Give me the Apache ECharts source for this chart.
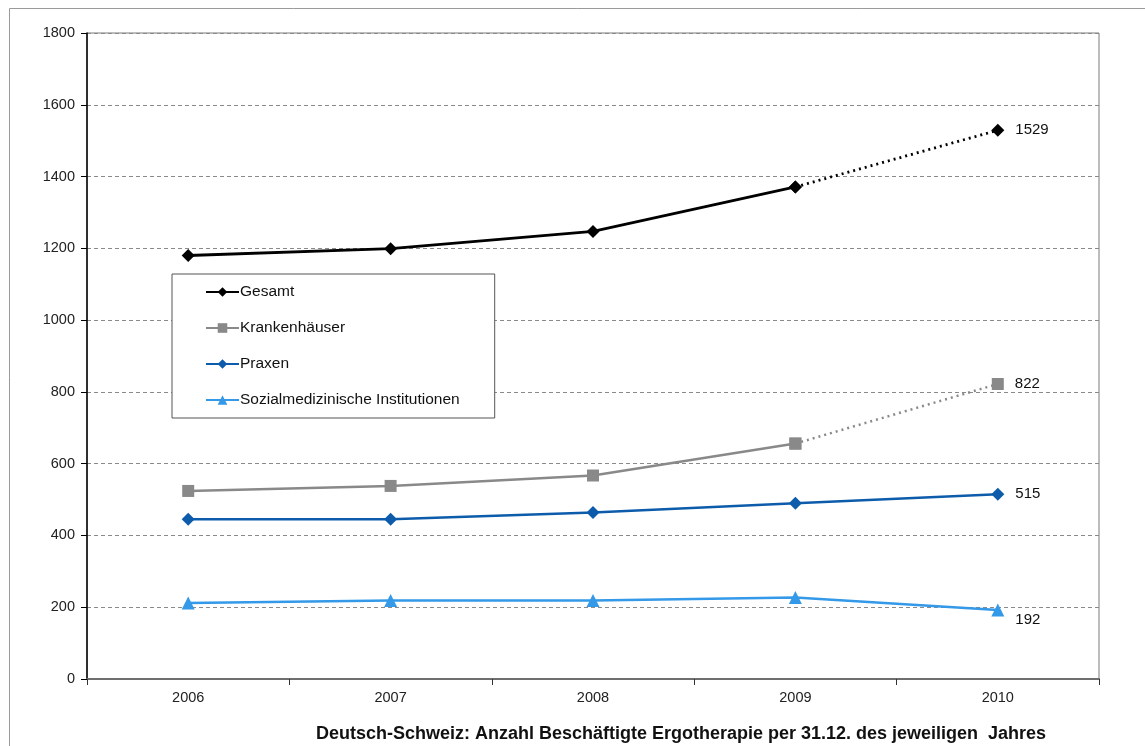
<!DOCTYPE html>
<html>
<head>
<meta charset="utf-8">
<script src="https://cdn.jsdelivr.net/npm/echarts@6/dist/echarts.min.js"></script>
<style>
  html, body { margin: 0; padding: 0; background: #fff; }
  #chart { width: 1145px; height: 746px; }
</style>
</head>
<body>
<div id="chart"></div>
<script>
// Jahre (Stichtag 31.12.)
const years = ['2006', '2007', '2008', '2009', '2010'];

// Beschäftigte nach Bereich
const gesamt = [1180, 1199, 1247, 1371, 1529];
const krankenhaeuser = [524, 538, 567, 656, 822];
const praxen = [445, 445, 464, 490, 515];
const sozialmedizin = [212, 219, 219, 227, 192];

// y-axis ticks
const yMin = 0, yMax = 1800, yStep = 200;

const FONT = 'Liberation Sans, Arial, sans-serif';
const last = years.length - 1;

// value label only on the last year
function withEndLabel(values, offset) {
  return values.map((v, i) => i === last ? {
    value: v,
    label: { show: true, position: 'right', distance: 11, offset: offset || [0, 0],
             color: '#111', fontSize: 15, fontFamily: FONT, formatter: '{c}' }
  } : v);
}

// the step into the last year is drawn dotted
function lastSegment(values) {
  return values.map((v, i) => i >= last - 1 ? v : null);
}
function solidPart(values) {
  return values.map((v, i) => i <= last - 1 ? v : null);
}

const chart = echarts.init(document.getElementById('chart'), null, { renderer: 'canvas' });

chart.setOption({
  animation: false,
  backgroundColor: '#fff',
  textStyle: { fontFamily: FONT },
  title: {
    text: 'Deutsch-Schweiz: Anzahl Beschäftigte Ergotherapie per 31.12. des jeweiligen  Jahres',
    left: 676, top: 720, textAlign: 'center',
    textStyle: { fontSize: 18, fontWeight: 'bold', color: '#111', fontFamily: FONT }
  },
  graphic: [{
    type: 'rect', silent: true, z: -10,
    shape: { x: 9.5, y: 8.5, width: 1300, height: 900 },
    style: { fill: 'none', stroke: '#9a9a9a', lineWidth: 1 }
  }],
  legend: {
    data: ['Gesamt', 'Krankenhäuser', 'Praxen', 'Sozialmedizinische Institutionen'],
    orient: 'vertical',
    left: 172, top: 274,
    padding: [10, 35, 10, 33],
    itemGap: 20,
    itemWidth: 33, itemHeight: 12,
    borderColor: '#555', borderWidth: 1,
    backgroundColor: '#fff',
    textStyle: { fontSize: 15.5, color: '#111', fontFamily: FONT, padding: [0, 0, 0, -4] }
  },
  grid: {
    left: 87, right: 46, top: 33, bottom: 67,
    show: true, borderColor: '#7a7a7a', borderWidth: 1
  },
  xAxis: {
    type: 'category',
    data: years,
    boundaryGap: true,
    axisLine: { lineStyle: { color: '#6e6e6e', width: 2 } },
    axisTick: { show: true, length: 6, lineStyle: { color: '#333' } },
    axisLabel: { color: '#222', fontSize: 14.5, margin: 11, fontFamily: FONT },
    splitLine: { show: false }
  },
  yAxis: {
    type: 'value',
    min: yMin, max: yMax, interval: yStep,
    axisLine: { show: true, lineStyle: { color: '#000', width: 1.5 } },
    axisTick: { show: true, length: 6, lineStyle: { color: '#000' } },
    axisLabel: { color: '#222', fontSize: 14.5, margin: 12, fontFamily: FONT,
                 formatter: (v) => String(v) },
    splitLine: { show: true, lineStyle: { color: '#8a8a8a', type: [4, 3], width: 1 } }
  },
  series: [
    {
      name: 'Gesamt', type: 'line', data: solidPart(gesamt),
      symbol: 'diamond', symbolSize: 13,
      itemStyle: { color: '#000' }, lineStyle: { color: '#000', width: 2.8 }, z: 5
    },
    {
      name: 'Gesamt (2010)', type: 'line', data: withEndLabel(lastSegment(gesamt)),
      symbol: 'diamond', symbolSize: 13,
      itemStyle: { color: '#000' }, lineStyle: { color: '#000', width: 2.8, type: [2, 4] }, z: 5
    },
    {
      name: 'Krankenhäuser', type: 'line', data: solidPart(krankenhaeuser),
      symbol: 'rect', symbolSize: 12,
      itemStyle: { color: '#898989' }, lineStyle: { color: '#898989', width: 2.5 }, z: 4
    },
    {
      name: 'Krankenhäuser (2010)', type: 'line', data: withEndLabel(lastSegment(krankenhaeuser)),
      symbol: 'rect', symbolSize: 12,
      itemStyle: { color: '#898989' }, lineStyle: { color: '#898989', width: 2.5, type: [2, 4] }, z: 4
    },
    {
      name: 'Praxen', type: 'line', data: withEndLabel(praxen),
      symbol: 'diamond', symbolSize: 13,
      itemStyle: { color: '#0d5cac' }, lineStyle: { color: '#0d5cac', width: 2.5 }, z: 3
    },
    {
      name: 'Sozialmedizinische Institutionen', type: 'line', data: withEndLabel(sozialmedizin, [0, 10]),
      symbol: 'triangle', symbolSize: 13,
      itemStyle: { color: '#3399e8' }, lineStyle: { color: '#3399e8', width: 2.5 }, z: 2
    }
  ]
});
</script>
</body>
</html>
